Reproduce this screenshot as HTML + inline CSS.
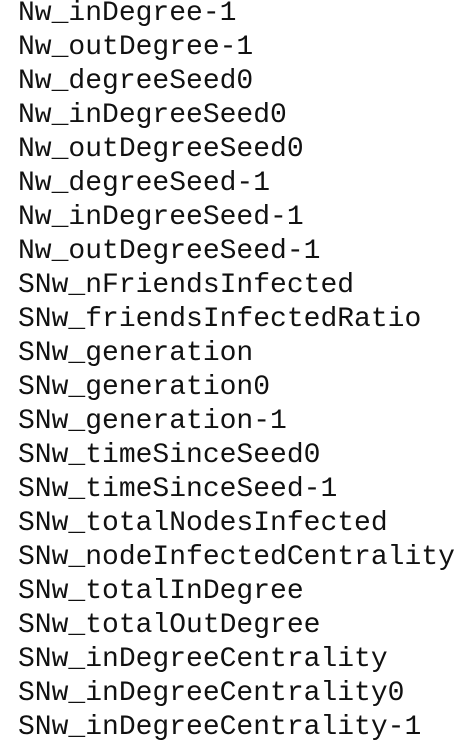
<!DOCTYPE html>
<html><head><meta charset="utf-8"><style>
html,body{margin:0;padding:0;background:#fff;width:466px;height:750px;overflow:hidden}
pre{margin:0;position:absolute;left:18px;top:-3px;font-family:"Liberation Mono",monospace;font-size:28px;line-height:34px;color:#111}
</style></head><body><pre>Nw_inDegree-1
Nw_outDegree-1
Nw_degreeSeed0
Nw_inDegreeSeed0
Nw_outDegreeSeed0
Nw_degreeSeed-1
Nw_inDegreeSeed-1
Nw_outDegreeSeed-1
SNw_nFriendsInfected
SNw_friendsInfectedRatio
SNw_generation
SNw_generation0
SNw_generation-1
SNw_timeSinceSeed0
SNw_timeSinceSeed-1
SNw_totalNodesInfected
SNw_nodeInfectedCentrality
SNw_totalInDegree
SNw_totalOutDegree
SNw_inDegreeCentrality
SNw_inDegreeCentrality0
SNw_inDegreeCentrality-1</pre></body></html>
